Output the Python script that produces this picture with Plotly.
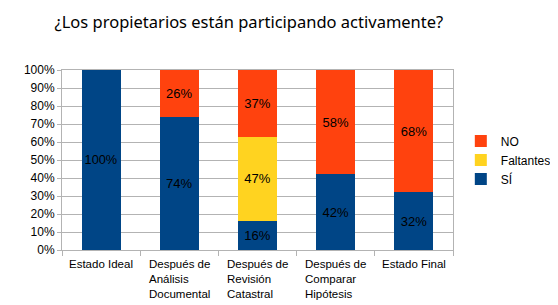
import plotly.graph_objects as go

categories = ["Estado Ideal", "Después de<br>Análisis<br>Documental", "Después de<br>Revisión<br>Catastral",
              "Después de<br>Comparar<br>Hipótesis", "Estado Final"]
si = [100, 74, 16, 42, 32]
faltantes = [None, None, 47, None, None]
no = [None, 26, 37, 58, 68]
y_ticks = list(range(0, 101, 10))
y_tick_labels = [f"{v}%" for v in y_ticks]

colors = {"SÍ": "#004586", "Faltantes": "#ffd320", "NO": "#ff420e"}
font = "Liberation Sans, Arial, sans-serif"

fig = go.Figure()
for name, vals in [("SÍ", si), ("Faltantes", faltantes), ("NO", no)]:
    fig.add_trace(go.Bar(
        x=categories, y=vals, name=name, marker=dict(color=colors[name], line=dict(width=0)),
        text=[f"{v}%" if v else "" for v in vals], textposition="inside",
        insidetextanchor="middle", textangle=0,
        textfont=dict(color="#000000", size=13, family=font),
        hoverinfo="skip",
    ))

for c in categories:
    fig.add_annotation(x=c, y=0, xref="x", yref="y", text=c, showarrow=False,
                       xanchor="center", yanchor="top", yshift=-6, align="left",
                       font=dict(size=11.5, family=font, color="#000000"))

fig.update_layout(
    barmode="stack", bargap=0.5,
    width=550, height=297,
    margin=dict(l=54, r=105, t=62, b=55, autoexpand=False),
    paper_bgcolor="white", plot_bgcolor="white",
    title=dict(text="¿Los propietarios están participando activamente?", x=0.438, xanchor="center",
               xref="container", y=0.953, yanchor="middle",
               font=dict(size=16.5, family="Noto Sans, sans-serif", color="#000000")),
    legend=dict(x=1.02, y=0.5, xanchor="left", yanchor="middle", traceorder="reversed",
                font=dict(size=12, family=font, color="#000000"), itemwidth=30,
                tracegroupgap=0),
    showlegend=True,
)
fig.update_xaxes(showticklabels=False, ticks="outside", tickson="boundaries", ticklen=5,
                 tickcolor="#b3b3b3", showline=True, linecolor="#b3b3b3", mirror=True,
                 showgrid=False)
fig.update_yaxes(range=[0, 100], tickvals=y_ticks, ticktext=y_tick_labels, showgrid=True,
                 gridcolor="#b3b3b3", showline=True, linecolor="#b3b3b3", mirror=True,
                 ticks="outside", ticklen=4, tickcolor="#b3b3b3", zeroline=False,
                 tickfont=dict(size=12, family=font, color="#000000"))

fig.write_html("out.html")
